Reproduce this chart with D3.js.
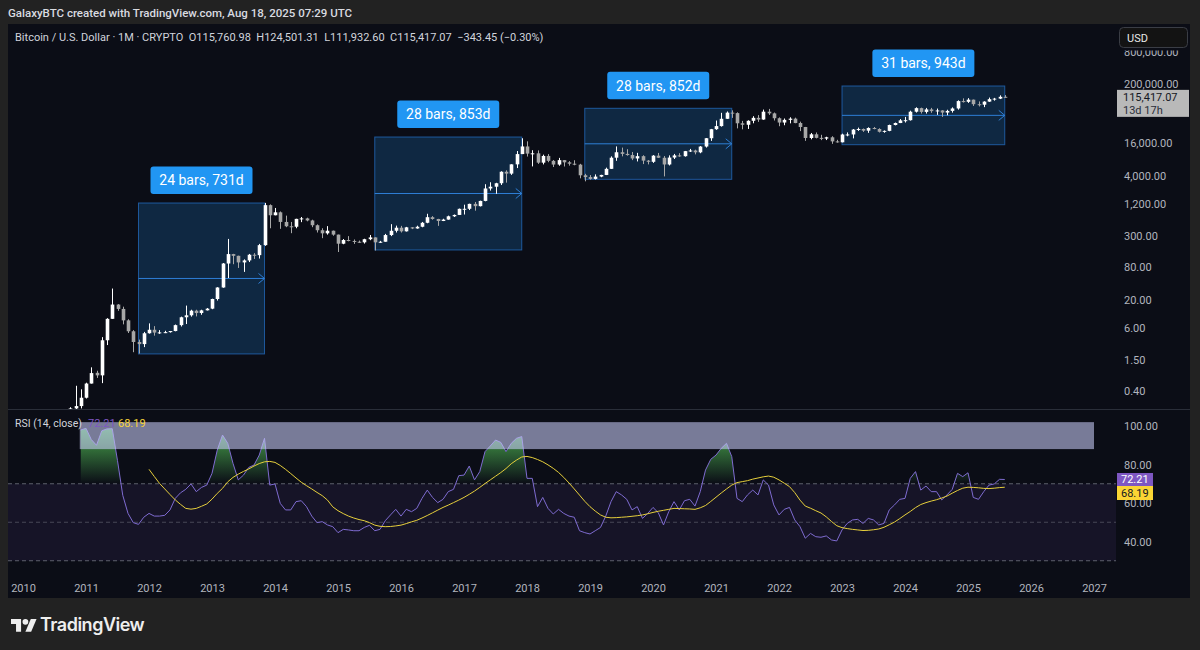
<!DOCTYPE html>
<html><head><meta charset="utf-8">
<script src="https://cdn.jsdelivr.net/npm/d3@7"></script>
<style>
html,body{margin:0;padding:0;background:#222222;}
svg{display:block;font-family:Roboto,"Noto Sans",sans-serif;}
</style></head><body>
<svg id="c" width="1200" height="650"></svg>
<script>
// ---------------- DATA ----------------
const months = [
 "2010-07","2010-08","2010-09","2010-10","2010-11","2010-12",
 "2011-01","2011-02","2011-03","2011-04","2011-05","2011-06","2011-07","2011-08","2011-09","2011-10","2011-11","2011-12",
 "2012-01","2012-02","2012-03","2012-04","2012-05","2012-06","2012-07","2012-08","2012-09","2012-10","2012-11","2012-12",
 "2013-01","2013-02","2013-03","2013-04","2013-05","2013-06","2013-07","2013-08","2013-09","2013-10","2013-11","2013-12",
 "2014-01","2014-02","2014-03","2014-04","2014-05","2014-06","2014-07","2014-08","2014-09","2014-10","2014-11","2014-12",
 "2015-01","2015-02","2015-03","2015-04","2015-05","2015-06","2015-07","2015-08","2015-09","2015-10","2015-11","2015-12",
 "2016-01","2016-02","2016-03","2016-04","2016-05","2016-06","2016-07","2016-08","2016-09","2016-10","2016-11","2016-12",
 "2017-01","2017-02","2017-03","2017-04","2017-05","2017-06","2017-07","2017-08","2017-09","2017-10","2017-11","2017-12",
 "2018-01","2018-02","2018-03","2018-04","2018-05","2018-06","2018-07","2018-08","2018-09","2018-10","2018-11","2018-12",
 "2019-01","2019-02","2019-03","2019-04","2019-05","2019-06","2019-07","2019-08","2019-09","2019-10","2019-11","2019-12",
 "2020-01","2020-02","2020-03","2020-04","2020-05","2020-06","2020-07","2020-08","2020-09","2020-10","2020-11","2020-12",
 "2021-01","2021-02","2021-03","2021-04","2021-05","2021-06","2021-07","2021-08","2021-09","2021-10","2021-11","2021-12",
 "2022-01","2022-02","2022-03","2022-04","2022-05","2022-06","2022-07","2022-08","2022-09","2022-10","2022-11","2022-12",
 "2023-01","2023-02","2023-03","2023-04","2023-05","2023-06","2023-07","2023-08","2023-09","2023-10","2023-11","2023-12",
 "2024-01","2024-02","2024-03","2024-04","2024-05","2024-06","2024-07","2024-08","2024-09","2024-10","2024-11","2024-12",
 "2025-01","2025-02","2025-03","2025-04","2025-05","2025-06","2025-07","2025-08"
];
const open = [
 0.05,0.07,0.06,0.06,0.19,0.21,
 0.30,0.55,0.87,0.78,3.50,8.74,16.10,13.35,8.19,5.14,3.25,2.97,
 4.72,5.48,4.86,4.90,4.95,5.19,6.68,9.35,10.17,12.40,11.20,12.57,
 13.51,20.41,33.38,93.03,139.2,129.3,97.5,106.2,135.4,133,204,1128,
 732,830,550,457,448,627,640,586,478,386,338,378,
 320,217,254,244,236,230,263,284,230,236,314,377,
 430,368,437,416,448,531,674,624,573,608,700,742,
 963,965,1190,1080,1350,2300,2480,2875,4700,4340,6450,10000,
 13860,10200,10330,6930,9240,7490,6390,7730,7030,6630,6370,4040,
 3740,3460,3820,4100,5320,8570,10820,10080,9600,8290,9150,7560,
 7190,9350,8540,6410,8620,9450,9140,11350,11660,10780,13800,19700,
 28990,33100,45200,58800,57700,37300,35000,41500,47100,43800,61300,57000,
 46300,38500,43200,45500,37700,31800,19900,23300,20000,19400,20500,17200,
 16550,23100,23150,28500,29250,27200,30480,29230,25940,26970,34650,37720,
 42280,42580,61200,71300,60650,67500,62700,64600,58970,63300,70300,96400,
 93400,102400,84350,82550,94200,104600,107100,115760.98
];
const high = [
 0.09,0.07,0.07,0.20,0.50,0.43,
 0.57,1.10,0.95,4.00,9.00,31.9,16.45,14.7,8.60,5.40,3.60,5.00,
 7.20,6.40,5.40,5.25,5.20,6.85,9.60,15.4,12.9,12.9,12.9,13.9,
 20.7,33.8,95,266,140.7,130,111,140,145,215,1242,1165,
 1000,860,720,550,630,680,660,605,495,420,460,380,
 320,265,300,260,248,268,315,285,245,330,500,470,
 465,445,440,468,550,780,705,628,630,720,755,975,
 1150,1200,1290,1365,2760,3000,2930,4800,5000,6470,11400,19666,
 17250,11790,11700,9760,10000,7770,8500,7760,7410,7680,6590,4300,
 4080,4200,4130,5600,9070,13880,13200,12330,10950,10540,9520,7750,
 9580,10500,9190,9470,10070,10400,11440,12470,12070,14100,19900,29300,
 41950,58350,61800,64850,59600,41300,42400,50500,52900,67000,69000,59100,
 47990,45800,48200,47450,40000,31950,24650,25200,22800,21000,21450,18400,
 23950,25250,29200,31000,29850,31400,31850,30200,27500,35200,38450,44700,
 48970,63900,73800,72800,71950,72000,70000,65100,66500,73600,99600,108300,
 109350,102750,95000,95750,111950,110500,123200,124501.31
];
const low = [
 0.05,0.06,0.06,0.06,0.17,0.19,
 0.29,0.55,0.70,0.56,2.85,8.70,12.3,6.90,4.77,2.10,1.98,2.61,
 4.65,4.26,4.60,4.75,4.85,5.13,6.30,7.00,9.60,9.70,10.4,12.5,
 13.2,19.1,33.0,50,90.3,77,65,99,113,115,198,420,
 730,410,440,340,420,545,565,440,350,275,320,305,
 152,212,240,215,225,218,252,162,225,236,300,350,
 350,365,405,412,438,520,605,465,570,605,680,740,
 755,915,890,1065,1330,2100,1830,2670,2950,4110,5500,10000,
 9000,5900,6580,6430,7060,5750,6070,5880,6100,6200,3550,3120,
 3350,3380,3720,4080,5300,7500,9070,9340,7730,7300,6520,6430,
 6860,8450,3850,6150,8100,8900,8970,10950,9880,10380,13200,17570,
 28130,32300,45000,47000,30000,28800,29300,37300,39600,43300,53300,42000,
 32900,34300,37200,37400,26700,17600,18800,19550,18150,18200,15480,16300,
 16500,21400,19550,26950,25800,24800,28850,25150,24900,26550,34100,37600,
 38550,41880,59000,56550,56550,58400,53500,49000,52550,58900,66800,90500,
 89200,78200,76600,74400,93400,98200,105100,111932.60
];
const close = [
 0.07,0.06,0.06,0.19,0.21,0.30,
 0.55,0.86,0.78,3.50,8.74,16.10,13.35,8.19,5.14,3.25,2.97,4.72,
 5.48,4.86,4.90,4.95,5.19,6.68,9.35,10.17,12.40,11.20,12.57,13.51,
 20.41,33.38,93.03,139.2,129.3,97.5,106.2,135.4,133,204,1128,732,
 830,550,457,448,627,640,586,478,386,338,378,320,
 217,254,244,236,230,263,284,230,236,314,377,430,
 368,437,416,448,531,674,624,573,608,700,742,963,
 965,1190,1080,1350,2300,2480,2875,4700,4340,6450,10000,13860,
 10200,10330,6930,9240,7490,6390,7730,7030,6630,6370,4040,3740,
 3460,3820,4100,5320,8570,10820,10080,9600,8290,9150,7560,7190,
 9350,8540,6410,8620,9450,9140,11350,11660,10780,13800,19700,28990,
 33100,45200,58800,57700,37300,35000,41500,47100,43800,61300,57000,46300,
 38500,43200,45500,37700,31800,19900,23300,20000,19400,20500,17200,16550,
 23100,23150,28500,29250,27200,30480,29230,25940,26970,34650,37720,42280,
 42580,61200,71300,60650,67500,62700,64600,58970,63300,70300,96400,93400,
 102400,84350,82550,94200,104600,107100,115760.98,115417.07
];
const rsi = [
 null,null,null,null,null,97.9,
 98.8,93,90,97.5,98.5,98.6,82,64,54.6,49.8,48.9,52.6,
 54.6,53.2,53.2,53.6,56.4,62.4,65.3,67.1,69.9,65.9,68.1,69.3,
 75.4,87.5,95.3,91,80.6,72,74.5,78.5,79.7,84.9,93.6,69.3,
 69.9,59.8,56.4,56.4,60.7,61.2,58.1,53.2,49.8,50.3,48.6,47.7,
 44.6,46.3,46.0,45.6,45.6,47.3,48.4,45.6,46.3,50.8,53.8,56.7,
 53.2,56.7,55.5,57.2,62.4,66.7,62.9,60.2,61.9,65.9,67.1,74.2,
 74.5,79.2,72.0,76.3,86.7,89.6,92.7,91.5,86.7,91.0,93.6,94.5,
 72.8,72.8,58.1,62.9,57.2,54.3,56.7,54.6,53.2,52.6,45.6,44.6,
 43.9,45.6,47.3,53.2,60.7,65.9,64.2,61.9,56.4,58.1,52.0,54.6,
 57.7,55.0,48.6,55.5,60.7,56.4,61.2,61.9,58.4,65.9,77.1,82.7,
 84.9,88.4,91.0,84.1,62.4,60.7,64.2,66.7,64.2,72.0,69.3,59.0,
 53.8,56.7,57.7,51.2,47.7,41.7,44.2,42.5,42.2,42.9,40.8,40.3,
 46.0,49.4,51.2,51.5,49.4,52.0,51.2,48.6,49.4,56.4,59.0,61.9,
 62.4,72.8,76.3,66.7,68.8,65.9,65.9,61.6,64.2,67.1,75.4,73.7,
 75.7,62.9,61.9,65.9,69.3,69.9,72.3,72.21
];
const rsiMa = [
 null,null,null,null,null,null,
 null,null,null,null,null,null,null,null,null,null,null,null,
 77.5,73.8,70.2,67.3,64.4,61.6,59.3,57.2,56.8,57.2,58.3,59.5,
 62.0,65.0,67.6,71.0,73.3,75.0,76.4,77.7,79.2,80.5,81.4,81.6,
 81.1,79.5,77.5,75.3,73.0,70.8,69.0,67.3,65.5,63.8,61.5,58.0,
 56.0,54.5,53.2,52.2,51.4,50.8,49.8,48.5,47.9,47.7,47.8,48.1,
 48.5,49.3,50.2,51.0,52.2,53.5,54.9,56.3,57.7,58.9,60.2,61.5,
 62.9,64.5,66.2,68.1,70.1,72.0,73.9,75.8,77.9,80.4,82.3,83.9,
 84.2,83.6,82.6,81.4,79.8,78.0,75.9,73.3,70.4,67.3,64.1,60.9,
 58.1,55.8,53.8,52.6,52.3,52.4,52.6,52.8,53.1,53.4,53.8,54.4,
 55.1,55.7,56.2,56.7,57.2,57.1,57.0,56.9,56.7,57.5,58.7,60.8,
 63.0,65.2,67.3,69.3,70.6,71.1,71.6,72.4,73.0,73.6,74.0,73.4,
 72.0,70.3,68.5,65.4,61.5,58.4,57.3,56.0,54.8,52.8,50.4,48.2,
 47.2,46.7,46.3,46.0,45.7,45.8,46.1,46.5,47.4,48.7,50.1,51.9,
 53.8,55.6,57.6,59.2,60.2,61.0,61.7,62.6,63.6,65.1,66.5,67.7,
 68.2,68.1,67.9,67.6,67.5,67.7,68.0,68.19
];
const years = ["2010","2011","2012","2013","2014","2015","2016","2017","2018","2019","2020","2021","2022","2023","2024","2025","2026","2027"];
const priceTicks = [800000,200000,16000,4000,1200,300,80,20,6,1.5,0.4];
const rsiTicks = [100,80,60,40];
const rsiLevels = [70,50,30];
// date-range drawings
const rangeStart = ["2011-11","2015-08","2018-12","2023-01"];
const rangeEnd   = ["2013-11","2017-12","2021-04","2025-08"];
const rangeLow   = [1.95,166,3400,14930];
const rangeHigh  = [1236,20750,70800,183700];
const rangeLabel = ["24 bars, 731d","28 bars, 853d","28 bars, 852d","31 bars, 943d"];
// highlighted RSI zone drawing
const rsiBoxFrom = "2010-12", rsiBoxTo = "2027-01", rsiBoxTop = 102, rsiBoxBottom = 88;
const lastPrice = 115417.07, lastRsi = 72.21, lastMa = 68.19;

// ---------------- LAYOUT ----------------
const svg = d3.select("#c");
const mi = s => (+s.slice(0,4) - 2010) * 12 + (+s.slice(5,7)) - 1;
const x = d3.scaleLinear().domain([0, 204]).range([23, 1094]);
const yP = d3.scaleLog().domain([0.4, 200000]).range([391, 84]);
const yR = d3.scaleLinear().domain([40, 100]).range([541.5, 426]);
const L = 8, R = 1190, PR = 1116, TOP = 24, PB = 409, RT = 410, RB = 570, BOT = 598;
const axisCol = "#b2b5be";

svg.append("rect").attr("width",1200).attr("height",650).attr("fill","#222222");
svg.append("rect").attr("x",L).attr("y",TOP).attr("width",R-L).attr("height",BOT-TOP).attr("fill","#0b0d16");

svg.append("text").attr("x",8).attr("y",17).attr("fill","#d9dbe0").attr("font-size",11.5).attr("font-weight",500)
  .text("GalaxyBTC created with TradingView.com, Aug 18, 2025 07:29 UTC");

const defs = svg.append("defs");
defs.append("clipPath").attr("id","cp").append("rect").attr("x",L).attr("y",TOP).attr("width",PR-L).attr("height",PB-TOP);
defs.append("clipPath").attr("id","cr").append("rect").attr("x",L).attr("y",RT).attr("width",PR-L).attr("height",RB-RT);
defs.append("clipPath").attr("id","cob").append("rect").attr("x",L).attr("y",RT).attr("width",PR-L).attr("height",yR(70)-RT);
defs.append("clipPath").attr("id","cpa").append("rect").attr("x",PR).attr("y",50.5).attr("width",R-PR).attr("height",PB-50.5);
const g1 = defs.append("linearGradient").attr("id","gg").attr("gradientUnits","userSpaceOnUse")
  .attr("x1",0).attr("x2",0).attr("y1",yR(100)).attr("y2",yR(70));
g1.append("stop").attr("offset",0).attr("stop-color","#4caf50").attr("stop-opacity",1);
g1.append("stop").attr("offset",1).attr("stop-color","#4caf50").attr("stop-opacity",0);

// ---------- price pane ----------
const pp = svg.append("g").attr("clip-path","url(#cp)");
const ranges = rangeStart.map((s,i)=>({s:mi(s), e:mi(rangeEnd[i]), lo:rangeLow[i], hi:rangeHigh[i], t:rangeLabel[i]}));
ranges.forEach(r=>{
  const x0 = x(r.s), x1 = x(r.e), y0 = yP(r.hi), y1 = yP(r.lo), ym = (y0+y1)/2;
  pp.append("rect").attr("x",x0).attr("y",y0).attr("width",x1-x0).attr("height",y1-y0)
    .attr("fill","rgba(33,150,243,0.2)").attr("stroke","rgba(41,128,230,0.6)").attr("stroke-width",1);
  pp.append("line").attr("x1",x0).attr("x2",x1).attr("y1",ym).attr("y2",ym).attr("stroke","#2e7fd6").attr("stroke-width",1);
  pp.append("path").attr("d",`M${x1-6},${ym-5}L${x1},${ym}L${x1-6},${ym+5}`).attr("fill","none").attr("stroke","#2e7fd6").attr("stroke-width",1);
});

const cw = 3.6;
const cg = pp.append("g");
months.forEach((m,i)=>{
  const cx = Math.round(x(mi(m))) + 0.5;
  const up = close[i] >= open[i];
  const col = up ? "#ffffff" : "#a7a7a7";
  cg.append("line").attr("x1",cx).attr("x2",cx).attr("y1",yP(high[i])).attr("y2",yP(low[i])).attr("stroke",col).attr("stroke-width",1);
  const yt = yP(Math.max(open[i],close[i])), yb = yP(Math.min(open[i],close[i]));
  cg.append("rect").attr("x",cx-cw/2).attr("y",yt).attr("width",cw).attr("height",Math.max(1,yb-yt)).attr("fill",col);
});

ranges.forEach(r=>{
  const cx = (x(r.s)+x(r.e))/2, yTop = yP(r.hi);
  pp.append("rect").attr("x",cx-51).attr("y",yTop-36.5).attr("width",102).attr("height",27.5).attr("rx",3).attr("fill","#2196f3");
  pp.append("text").attr("x",cx).attr("y",yTop-22.5).attr("dy","0.35em").attr("text-anchor","middle")
    .attr("fill","#ffffff").attr("font-size",14).text(r.t);
});

svg.append("text").attr("x",15).attr("y",41).attr("fill","#d1d4dc").attr("font-size",11).style("white-space","pre")
  .text("Bitcoin / U.S. Dollar · 1M · CRYPTO  O115,760.98  H124,501.31  L111,932.60  C115,417.07  −343.45 (−0.30%)");

// price axis (top label partly cut by the pane edge as in the original)
const pa = svg.append("g").attr("clip-path","url(#cpa)").append("g").attr("transform","translate(1124,0)")
  .call(d3.axisRight(yP).tickValues(priceTicks).tickFormat(d3.format(",.2f")).tickSize(0).tickPadding(0));
pa.select(".domain").remove();
pa.selectAll("text").attr("fill",axisCol).attr("font-size",11).attr("font-family","Roboto,sans-serif");

// last price label
const ly = yP(lastPrice);
svg.append("rect").attr("x",1117).attr("y",ly-7).attr("width",72).attr("height",27).attr("fill","#b9b9b9");
svg.append("text").attr("x",1123).attr("y",ly).attr("dy","0.35em").attr("fill","#131722").attr("font-size",11).text(d3.format(",.2f")(lastPrice));
svg.append("text").attr("x",1123).attr("y",ly+13).attr("dy","0.35em").attr("fill","#2a2e39").attr("font-size",11).text("13d 17h");

// USD button
svg.append("rect").attr("x",1119.5).attr("y",27.5).attr("width",68).attr("height",20).attr("rx",4).attr("fill","#131313").attr("stroke","#3a3d45");
svg.append("text").attr("x",1127).attr("y",38).attr("dy","0.35em").attr("fill","#e8e8e8").attr("font-size",11).text("USD");

// pane separator
svg.append("line").attr("x1",L).attr("x2",R).attr("y1",PB+0.5).attr("y2",PB+0.5).attr("stroke","#2a2e39");

// ---------- RSI pane ----------
const rp = svg.append("g").attr("clip-path","url(#cr)");
rp.append("rect").attr("x",L).attr("y",yR(70)).attr("width",PR-L).attr("height",yR(30)-yR(70)).attr("fill","rgba(126,87,194,0.1)");
rsiLevels.forEach(v=>{
  rp.append("line").attr("x1",L).attr("x2",PR).attr("y1",yR(v)).attr("y2",yR(v))
    .attr("stroke", v===50 ? "rgba(120,123,134,0.5)" : "rgba(120,123,134,0.75)").attr("stroke-dasharray","4,3");
});
const rsiPts = months.map((m,i)=>({i:mi(m), v:rsi[i]})).filter(d=>d.v!==null);
const maPts = months.map((m,i)=>({i:mi(m), v:rsiMa[i]})).filter(d=>d.v!==null);
rp.append("path").datum(rsiPts).attr("clip-path","url(#cob)")
  .attr("d", d3.area().x(d=>x(d.i)).y0(yR(70)).y1(d=>yR(d.v))).attr("fill","url(#gg)");
rp.append("path").datum(rsiPts).attr("d", d3.line().x(d=>x(d.i)).y(d=>yR(d.v)))
  .attr("fill","none").attr("stroke","#7e6bd0").attr("stroke-width",1);
rp.append("path").datum(maPts).attr("d", d3.line().x(d=>x(d.i)).y(d=>yR(d.v)))
  .attr("fill","none").attr("stroke","#e6cf3c").attr("stroke-width",1);
rp.append("rect").attr("x",x(mi(rsiBoxFrom))-1).attr("y",yR(rsiBoxTop)).attr("width",x(mi(rsiBoxTo))-x(mi(rsiBoxFrom))+1)
  .attr("height",yR(rsiBoxBottom)-yR(rsiBoxTop)).attr("fill","rgba(200,204,246,0.58)");

svg.append("text").attr("x",15).attr("y",423).attr("dy","0.35em").attr("fill","#d1d4dc").attr("font-size",10.5).text("RSI (14, close)");
svg.append("text").attr("x",88).attr("y",423).attr("dy","0.35em").attr("fill","#7e57c2").attr("font-size",11).text(lastRsi.toFixed(2));
svg.append("text").attr("x",118).attr("y",423).attr("dy","0.35em").attr("fill","#f7d53a").attr("font-size",11).text(lastMa.toFixed(2));

const ra = svg.append("g").attr("transform","translate(1124,0)")
  .call(d3.axisRight(yR).tickValues(rsiTicks).tickFormat(d3.format(".2f")).tickSize(0).tickPadding(0));
ra.select(".domain").remove();
ra.selectAll("text").attr("fill",axisCol).attr("font-size",11).attr("font-family","Roboto,sans-serif");

const ry = yR(lastRsi);
svg.append("rect").attr("x",1117).attr("y",ry-6.5).attr("width",36).attr("height",13).attr("fill","#7e57c2");
svg.append("text").attr("x",1121).attr("y",ry).attr("dy","0.35em").attr("fill","#ffffff").attr("font-size",11).text(lastRsi.toFixed(2));
svg.append("rect").attr("x",1117).attr("y",ry+6.5).attr("width",36).attr("height",14).attr("fill","#fbd534");
svg.append("text").attr("x",1121).attr("y",ry+13.5).attr("dy","0.35em").attr("fill","#131722").attr("font-size",11).text(lastMa.toFixed(2));

// time axis
const ta = svg.append("g").attr("transform","translate(0,584)")
  .call(d3.axisBottom(x).tickValues(years.map(y=>mi(y+"-01"))).tickFormat((d,i)=>years[i]).tickSize(0).tickPadding(0));
ta.select(".domain").remove();
ta.selectAll("text").attr("fill",axisCol).attr("font-size",11).attr("font-family","Roboto,sans-serif");

// logo
const lg = svg.append("g").attr("transform","translate(11,616) scale(0.72)").attr("fill","#eeeeee");
lg.append("path").attr("d","M14 22H7V11H0V4h14v18z");
lg.append("circle").attr("cx",20).attr("cy",8).attr("r",4);
lg.append("path").attr("d","M28 22h-8l7.5-18h8L28 22z");
svg.append("text").attr("x",40).attr("y",631).attr("fill","#eeeeee").attr("font-size",18).attr("font-weight",600)
  .attr("font-family","Inter,Roboto,sans-serif").attr("letter-spacing","-0.5").text("TradingView");
</script>
</body></html>
